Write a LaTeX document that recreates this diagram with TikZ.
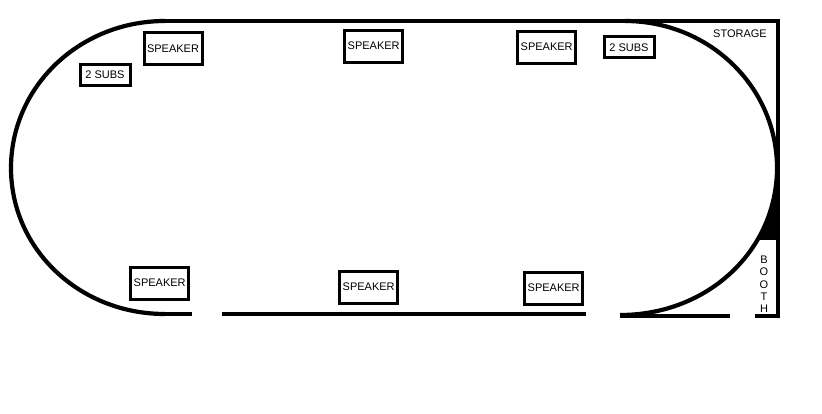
\documentclass[tikz,border=0pt]{standalone}
\usepackage{fontspec}
\setmainfont{Liberation Sans}
\tikzset{
  wall/.style={line width=4.5pt,black},
  arcwall/.style={line width=4.2pt,black},
  box/.style={draw=black,line width=3pt,fill=white,inner sep=0pt,align=center,font=\fontsize{11}{12}\selectfont},
  speakerbox/.style={box,minimum width=58pt,minimum height=32pt},
  subsbox/.style={box,minimum width=50pt,minimum height=21pt},
  lbl/.style={inner sep=0pt,align=center,font=\fontsize{11}{12.3}\selectfont}
}
\begin{document}
\begin{tikzpicture}[x=1pt,y=-1pt]
\useasboundingbox[fill=white] (0,0) rectangle (822,414);
% curved walls
\draw[arcwall] (165,21) .. controls (79.4,21) and (11,86.8) .. (11,168)
  .. controls (11,249.2) and (79.4,314) .. (165,314);
\draw[arcwall] (625,21) .. controls (709,21) and (777,86.8) .. (777,168)
  .. controls (777,249.2) and (709,315) .. (620,315);
% straight walls
\draw[wall,line cap=round] (165,21) -- (778,21) -- (778,316);
\draw[wall] (165,314) -- (191.5,314);
\draw[wall] (222,314) -- (586,314);
\draw[wall] (620,316) -- (730,316);
\draw[wall] (755,316) -- (780,316);
% solid wedge above the booth
\fill[black] (776,175) -- (773,195) -- (768,215) -- (759,240) -- (778,240) -- (778,175) -- cycle;
% equipment
\node[speakerbox] (s1) at (173,48.5) {SPEAKER};
\node[speakerbox] (s2) at (373.7,46.2) {SPEAKER};
\node[speakerbox] (s3) at (546.7,47.2) {SPEAKER};
\node[speakerbox] (s4) at (159.7,283.2) {SPEAKER};
\node[speakerbox] (s5) at (368.7,287.2) {SPEAKER};
\node[speakerbox] (s6) at (553.7,288.2) {SPEAKER};
\node[subsbox] (b1) at (105,75) {2 SUBS};
\node[subsbox] (b2) at (629,47.5) {2 SUBS};
\node[lbl] (storage) at (740,34) {STORAGE};
\node[lbl] (booth) at (764,284.5) {B\\O\\O\\T\\H};
\end{tikzpicture}
\end{document}
